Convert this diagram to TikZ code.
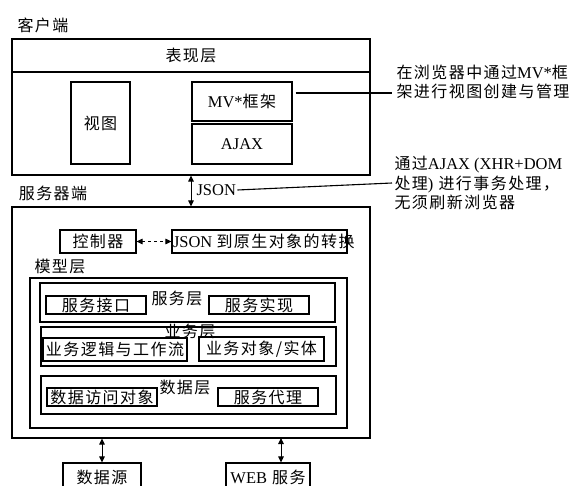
\documentclass[tikz,border=0pt]{standalone}
\usepackage{fontspec}
\setmainfont{Noto Sans CJK SC}[LetterSpace=9]
\newfontfamily\enf{Liberation Serif}[Scale=1.03]
\newcommand\en[1]{{\enf #1}}
\usetikzlibrary{arrows.meta,calc}
\begin{document}
\begin{tikzpicture}[x=1pt,y=-1pt,
  font=\fontsize{16}{19.5}\selectfont,
  line width=1.1pt,
  box/.style={draw, inner sep=0pt},
  lbl/.style={inner sep=1pt},
  note/.style={align=left, inner sep=0pt, font=\fontsize{16}{19.5}\selectfont},
  dtip/.style={{Triangle[length=6pt,width=5.5pt]}-{Triangle[length=6pt,width=5.5pt]}, line width=1pt}]
\useasboundingbox (0,0) rectangle (573,486);
% client side
\node[lbl] (clientlbl) at (43,25) {客户端};
\node[box, minimum width=358, minimum height=136] (client) at (191,107) {};
\node[box, minimum width=358, minimum height=33] (pres) at (191,55.5) {表现层};
\node[box, minimum width=59, minimum height=82] (view) at (100.5,123) {视图};
\node[box, minimum width=100, minimum height=39] (mv) at (242,101.5) {\en{MV*}框架};
\node[box, minimum width=100, minimum height=40] (ajax) at (242,144) {\en{AJAX}};
% notes
\node[note, anchor=north west] (note1) at (396,64) {在浏览器中通过\en{MV*}框\\架进行视图创建与管理};
\node[note, anchor=north west] (note2) at (394,156) {通过\en{AJAX (XHR+DOM}\\处理\en{)} 进行事务处理，\\无须刷新浏览器};
\coordinate (n1e) at (392,93);
\coordinate (n2e) at (392,183);
\draw ($(mv.east)+(3,-8.5)$) -- (n1e);
% server side
\node[lbl] (serverlbl) at (53,193) {服务器端};
\node[box, minimum width=358, minimum height=231] (server) at (191,322.5) {};
\draw[dtip] (client.south) -- (server.north);
\node[lbl, anchor=west] (json) at (195,190) {\en{JSON}};
\draw (json.east) -- (n2e);
\node[box, minimum width=76, minimum height=23] (ctrl) at (98,241.5) {控制器};
\node[box, minimum width=175, minimum height=23] (conv) at (259.5,241.5) {};
\node[lbl, anchor=west] (convt) at (conv.west) {\en{JSON }到原生对象的转换};
\draw[dtip, dashed] (ctrl.east) -- (conv.west);
% model layer
\node[lbl] (modellbl) at (60,266) {模型层};
\node[box, minimum width=317, minimum height=150] (model) at (188.5,353) {};
\node[box, minimum width=295, minimum height=39] (svcL) at (187.5,302.5) {};
\node[lbl] (svcLt) at (177,298) {服务层};
\node[box, minimum width=100, minimum height=18] (svcIf) at (96,305) {服务接口};
\node[box, minimum width=100, minimum height=18] (svcImpl) at (259,305) {服务实现};
\node[box, minimum width=295, minimum height=39] (bizL) at (188.5,346.5) {};
\node[lbl] (bizLt) at (190,331) {业务层};
\node[box, minimum width=144, minimum height=23] (bizFlow) at (115,349.5) {业务逻辑与工作流};
\node[box, minimum width=125, minimum height=24] (bizObj) at (261.5,349) {业务对象/实体};
\node[box, minimum width=295, minimum height=38] (dataL) at (188.5,395) {};
\node[lbl] (dataLt) at (185,387) {数据层};
\node[box, minimum width=110, minimum height=18] (dao) at (102,397) {数据访问对象};
\node[box, minimum width=100, minimum height=18] (proxy) at (268,397) {服务代理};
% external
\begin{scope}
\clip (0,0) rectangle (573,486);
\node[box, minimum width=78, minimum height=28] (src) at (102,477) {数据源};
\node[box, minimum width=84, minimum height=28] (web) at (268,477) {\en{WEB} 服务};
\end{scope}
\draw[dtip] (server.south -| src.north) -- (src.north);
\coordinate (w) at (281,438);
\draw[dtip] (w) -- (w |- web.north);
\end{tikzpicture}
\end{document}
